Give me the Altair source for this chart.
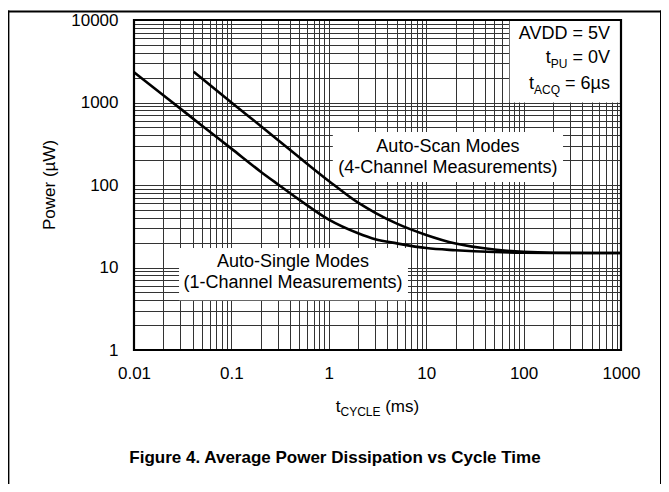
import altair as alt
import pandas as pd

# ---- data ----
t_single = [0.01, 0.02, 0.05, 0.1, 0.2, 0.3, 0.5, 1, 2, 3, 5, 10, 20, 50, 100, 200, 500, 1000]
p_single = [2320, 1225, 524, 276, 145, 102, 66, 38, 26, 22, 19.6, 17.2, 16.2, 15.4, 15.1, 15, 15, 15]

t_scan = [0.041, 0.1, 0.2, 0.5, 1, 2, 3, 5, 10, 20, 50, 100, 200, 500, 1000]
p_scan = [2360, 1000, 520, 215, 112, 61, 46, 34, 24.8, 19.5, 16.5, 15.5, 15.1, 15, 15]

x_labels = [0.01, 0.1, 1, 10, 100, 1000]
y_labels = [1, 10, 100, 1000, 10000]

# annotation boxes (data coordinates)
box_t1 = [72, 1.1, 0.029]
box_t2 = [1000, 254, 6.5]
box_p1 = [1000, 109, 4.0]
box_p2 = [10000, 438, 17.2]

# annotation texts (centered)
ann_text = ["Auto-Scan Modes", "(4-Channel Measurements)",
            "Auto-Single Modes", "(1-Channel Measurements)"]
ann_t = [16.7, 16.7, 0.429, 0.429]
ann_p = [289, 161, 11.7, 6.5]

# conditions box (right aligned)
cond_t = 771
cond_p = [6772, 3460, 1678]

FONT = "Liberation Sans"
W, H = 487, 330

x_grid = sorted(set([round(k * 10.0 ** e, 6) for e in range(-2, 3) for k in range(1, 10)] + [1000.0]))
y_grid = sorted(set([round(k * 10.0 ** e, 6) for e in range(0, 4) for k in range(1, 10)] + [10000.0]))

xscale = alt.Scale(type="log", domain=[0.01, 1000], nice=False)
yscale = alt.Scale(type="log", domain=[1, 10000], nice=False)

xl = ",".join(str(v) for v in x_labels)
yl = ",".join(str(v) for v in y_labels)

x_axis = alt.Axis(values=x_grid, labelExpr=f"indexof([{xl}], datum.value) >= 0 ? format(datum.value, '~g') : ''",
                  grid=True, gridColor="#333333", gridWidth=1, tickSize=0, domain=False,
                  labelFontSize=17, labelPadding=15, labelColor="black", labelFont=FONT,
                  labelOverlap=False, labelFlush=False, labelBound=False, title=None)
y_axis = alt.Axis(values=y_grid, labelExpr=f"indexof([{yl}], datum.value) >= 0 ? format(datum.value, '~g') : ''",
                  grid=True, gridColor="#333333", gridWidth=1, tickSize=0, domain=False,
                  labelFontSize=17, labelPadding=16, labelColor="black", labelFont=FONT,
                  labelOverlap=False, labelFlush=False, labelBound=False, title=None)

def X(f):
    return alt.X(f, type="quantitative", scale=xscale, axis=x_axis)

def Y(f):
    return alt.Y(f, type="quantitative", scale=yscale, axis=y_axis)

boxes_df = pd.DataFrame({"t1": box_t1, "t2": box_t2, "p1": box_p1, "p2": box_p2})
boxes = alt.Chart(boxes_df).mark_rect(color="white").encode(
    x=X("t1"), x2="t2", y=Y("p1"), y2="p2",
)

single_df = pd.DataFrame({"t": t_single, "p": p_single})
scan_df = pd.DataFrame({"t": t_scan, "p": p_scan})

def curve(df):
    return alt.Chart(df).mark_line(color="black", strokeWidth=2.6, interpolate="monotone").encode(
        x=X("t"), y=Y("p"),
    )

ann_df = pd.DataFrame({"t": ann_t, "p": ann_p, "s": ann_text})
ann = alt.Chart(ann_df).mark_text(font=FONT, fontSize=18, color="black", align="center", baseline="middle").encode(
    x=X("t"), y=Y("p"), text="s:N",
)

def ctext(txt, p, size=18, dx=0, dy=0):
    d = pd.DataFrame({"t": [cond_t], "p": [p], "s": [txt]})
    return alt.Chart(d).mark_text(font=FONT, fontSize=size, color="black", align="right",
                                  baseline="middle", dx=dx, dy=dy).encode(
        x=X("t"), y=Y("p"), text="s:N",
    )

cond = [
    ctext("AVDD = 5V", cond_p[0]),
    ctext("= 0V", cond_p[1]),
    ctext("PU", cond_p[1], size=12, dx=-42.5, dy=6),
    ctext("t", cond_p[1], dx=-59.2),
    ctext("= 6\u00b5s", cond_p[2]),
    ctext("ACQ", cond_p[2], size=12, dx=-49.9, dy=6),
    ctext("t", cond_p[2], dx=-75.9),
]

dummy = pd.DataFrame({"a": [0]})

def ptext(txt, x, y, size=17, align="left", weight="normal", angle=0, dy=0):
    kw = dict(font=FONT, fontSize=size, color="black", align=align, baseline="middle",
              fontWeight=weight, dy=dy)
    if angle:
        kw["angle"] = angle
    return alt.Chart(dummy).mark_text(**kw).encode(
        x=alt.value(x), y=alt.value(y), text=alt.value(txt))

xtitle_x = W / 2 - 41.7
titles = [
    ptext("t", xtitle_x, 387),
    ptext("CYCLE", xtitle_x + 4.7, 387, size=12, dy=5),
    ptext("(ms)", xtitle_x + 49.4, 387),
    ptext("Power (\u00b5W)", -84, 165, align="center", angle=270),
    ptext("Figure 4. Average Power Dissipation vs Cycle Time", 201, 438, size=17,
          align="center", weight="bold"),
]

border = alt.Chart(dummy).mark_rect(fill="white", fillOpacity=0, stroke="black", strokeWidth=2.2).encode(
    x=alt.value(0), x2=alt.value(W), y=alt.value(0), y2=alt.value(H))

def bar(x, x2, y, y2):
    return alt.Chart(dummy).mark_rect(color="black").encode(
        x=alt.value(x), x2=alt.value(x2), y=alt.value(y), y2=alt.value(y2))

frame = [
    bar(-126, 527.4, -9.5, -7.5),
    bar(-126, -124.6, -9.5, 464),
    bar(526, 527.4, -9.5, 464),
]

chart = alt.layer(boxes, curve(single_df), curve(scan_df), ann, *cond, *titles, border, *frame).properties(
    width=W, height=H,
    autosize=alt.AutoSizeParams(type="none"),
    padding={"left": 126, "top": 12, "right": 40, "bottom": 134},
    background="white",
).configure_view(stroke=None)

chart.save("out.html", embed_options={"renderer": "svg", "actions": False})
